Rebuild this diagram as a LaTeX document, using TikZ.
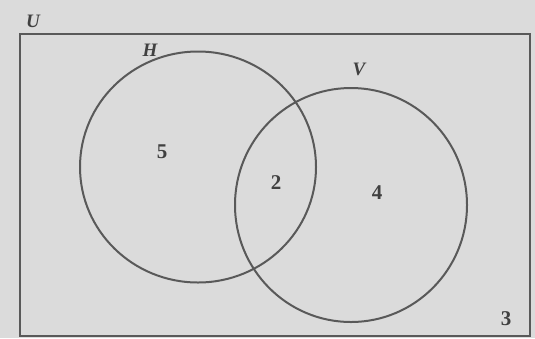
\documentclass[tikz,border=0pt]{standalone}
\usepackage{fontspec}
\setmainfont{Liberation Serif}
\usetikzlibrary{shapes.geometric}
\begin{document}
\begin{tikzpicture}[x=1pt,y=-1pt,
  setline/.style={draw=black!65, line width=2pt},
  numlab/.style={text=black!75, font=\bfseries\fontsize{21}{23}\selectfont},
  setlab/.style={text=black!75, font=\bfseries\itshape\fontsize{19}{21}\selectfont}]
\fill[black!14] (0,0) rectangle (535,338);
\useasboundingbox (0,0) rectangle (535,338);
\draw[setline, line width=1.6pt] (20,34) rectangle (530,336);
\node[setline, ellipse, minimum width=236pt, minimum height=231pt, inner sep=0pt] (H) at (198,167) {};
\node[setline, ellipse, minimum width=232pt, minimum height=234pt, inner sep=0pt] (V) at (351,205) {};
\node[setlab] (U) at (33,21) {U};
\node[setlab] (HL) at (150,50) {H};
\node[setlab] (VL) at (359,69) {V};
\node[numlab] (n5) at (162,152) {5};
\node[numlab] (n2) at (276,183) {2};
\node[numlab] (n4) at (377,193) {4};
\node[numlab] (n3) at (506,319) {3};
\end{tikzpicture}
\end{document}
